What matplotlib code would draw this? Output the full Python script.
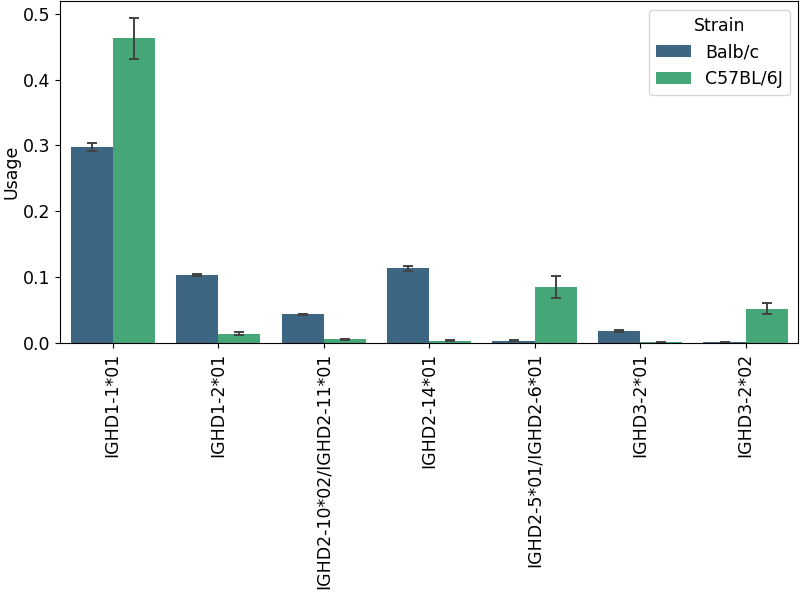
import matplotlib
matplotlib.use("Agg")
import matplotlib.pyplot as plt
import numpy as np
import seaborn as sns

genes = ["IGHD1-1*01", "IGHD1-2*01", "IGHD2-10*02/IGHD2-11*01", "IGHD2-14*01",
         "IGHD2-5*01/IGHD2-6*01", "IGHD3-2*01", "IGHD3-2*02"]
strains = ["Balb/c", "C57BL/6J"]

# mean usage per strain
balb = [0.297, 0.103, 0.043, 0.113, 0.003, 0.018, 0.0005]
c57 = [0.463, 0.014, 0.005, 0.003, 0.084, 0.0005, 0.052]
# error bar (low, high)
balb_lo = [0.291, 0.102, 0.042, 0.109, 0.002, 0.017, 0.0003]
balb_hi = [0.303, 0.104, 0.044, 0.117, 0.004, 0.019, 0.0007]
c57_lo = [0.431, 0.012, 0.004, 0.002, 0.068, 0.0003, 0.043]
c57_hi = [0.494, 0.016, 0.006, 0.004, 0.101, 0.0007, 0.061]

colors = sns.color_palette("viridis", 2, desat=0.75)

plt.rcParams["font.size"] = 12.5
fig, ax = plt.subplots(figsize=(8, 5.93), dpi=100)
fig.subplots_adjust(left=0.075, right=0.998, top=0.998, bottom=0.422)

x = np.arange(len(genes))
w = 0.4
series = [(balb, balb_lo, balb_hi), (c57, c57_lo, c57_hi)]
for i, (vals, lo, hi) in enumerate(series):
    vals = np.array(vals)
    yerr = np.vstack([vals - np.array(lo), np.array(hi) - vals])
    ax.bar(x - w / 2 + i * w, vals, width=w, color=colors[i], label=strains[i],
           edgecolor="white", linewidth=0)
    ax.errorbar(x - w / 2 + i * w, vals, yerr=yerr, fmt="none", ecolor="0.26",
                elinewidth=1.4, capsize=3.5, capthick=1.4)

ax.set_xlim(-0.5, len(genes) - 0.5)
ax.set_ylim(0, 0.519)
ax.set_xticks(x)
ax.set_xticklabels(genes, rotation=90)
ax.set_ylabel("Usage", labelpad=2)
ax.legend(title="Strain", loc="upper right")

fig.savefig("out.png", dpi=100)
